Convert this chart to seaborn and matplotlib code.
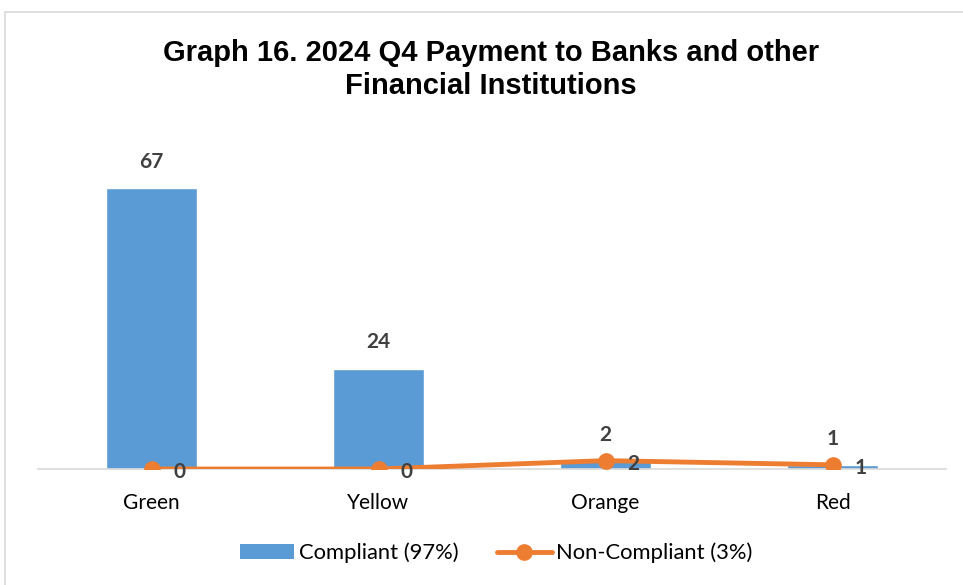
import matplotlib
matplotlib.use("Agg")
import matplotlib.pyplot as plt
import seaborn as sns
import pandas as pd
from matplotlib.lines import Line2D
from matplotlib.patches import Patch

categories = ["Green", "Yellow", "Orange", "Red"]
compliant = [67, 24, 2, 1]
non_compliant = [0, 0, 2, 1]
title = "Graph 16. 2024 Q4 Payment to Banks and other\nFinancial Institutions"
legend_labels = ["Compliant (97%)", "Non-Compliant (3%)"]

BLUE = "#5B9BD5"
ORANGE = "#ED7D31"
LABEL = "#404040"

sns.set_theme(style="white")
plt.rcParams["font.family"] = ["Lato", "DejaVu Sans"]

fig = plt.figure(figsize=(9.63, 5.85), dpi=100)
ax = fig.add_axes([38 / 963, 116 / 585, 908 / 963, (469 - 134) / 585])

df = pd.DataFrame({"cat": categories, "c": compliant, "n": non_compliant})
sns.barplot(data=df, x="cat", y="c", color=BLUE, width=0.4, ax=ax, saturation=1)
ax.plot(range(len(categories)), non_compliant, color=ORANGE, lw=3.5,
        marker="o", markersize=11, zorder=5, solid_capstyle="round")

ax.set_xlim(-0.5, 3.5)
ax.set_ylim(0, 80)
ax.set_xlabel("")
ax.set_ylabel("")
ax.set_yticks([])
for s in ["left", "right", "top"]:
    ax.spines[s].set_visible(False)
ax.spines["bottom"].set_color("#D9D9D9")
ax.spines["bottom"].set_linewidth(1.2)
ax.tick_params(axis="x", length=0, pad=17, labelsize=15, labelcolor="#000000")

for i, v in enumerate(compliant):
    ax.annotate(str(v), (i, v), xytext=(0, 26), textcoords="offset pixels",
                ha="center", va="center", fontsize=15, fontweight="bold", color=LABEL)
for i, v in enumerate(non_compliant):
    ax.annotate(str(v), (i, v), xytext=(28, -3), textcoords="offset pixels",
                ha="center", va="center", fontsize=15, fontweight="bold", color=LABEL, zorder=6)

fig.text(491 / 963, 1 - 69.5 / 585, title, ha="center", va="center",
         fontsize=21, fontweight="bold", family=["Liberation Sans", "DejaVu Sans"],
         linespacing=1.27, color="#000000")

handles = [Patch(facecolor=BLUE, edgecolor="none"),
           Line2D([0], [0], color=ORANGE, lw=3.5, marker="o", markersize=11)]
leg = fig.legend(handles, legend_labels, loc="center", bbox_to_anchor=(496 / 963, 1 - 553 / 585),
                 ncol=2, frameon=False, fontsize=15.8, handlelength=2.5, handleheight=0.65,
                 columnspacing=1.75, handletextpad=0.2)
for t in leg.get_texts():
    t.set_color("#000000")

fig.add_artist(Line2D([5 / 963, 5 / 963], [0, 1 - 12 / 585], color="#D9D9D9", lw=1.2,
                      transform=fig.transFigure))
fig.add_artist(Line2D([5 / 963, 1], [1 - 12 / 585, 1 - 12 / 585], color="#D9D9D9", lw=1.2,
                      transform=fig.transFigure))

fig.savefig("out.png", dpi=100)
